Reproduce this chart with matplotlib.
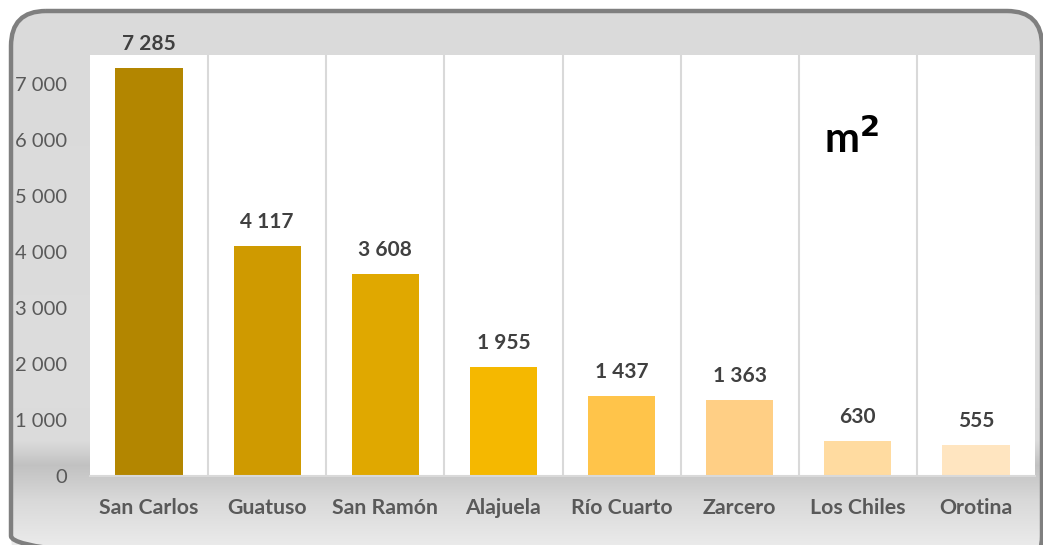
import numpy as np
import matplotlib
matplotlib.use("Agg")
import matplotlib.pyplot as plt
from matplotlib.patches import FancyBboxPatch

categories = ["San Carlos", "Guatuso", "San Ramón", "Alajuela", "Río Cuarto", "Zarcero", "Los Chiles", "Orotina"]
values = [7285, 4117, 3608, 1955, 1437, 1363, 630, 555]
colors = ["#B38600", "#CF9A00", "#E0A800", "#F5B800", "#FFC44A", "#FFCF85", "#FFDBA0", "#FFE5C0"]
yticks = [0, 1000, 2000, 3000, 4000, 5000, 6000, 7000]
ytick_labels = ["0", "1 000", "2 000", "3 000", "4 000", "5 000", "6 000", "7 000"]

plt.rcParams['font.family'] = ['Lato', 'DejaVu Sans']

W, H = 1043, 545
fig = plt.figure(figsize=(W / 100, H / 100), dpi=100)
fig.patch.set_facecolor("white")

# background gradient inside a rounded frame
bg = fig.add_axes([0, 0, 1, 1], zorder=0)
bg.set_xlim(0, W)
bg.set_ylim(H, 0)
bg.axis("off")
rows = np.arange(H)
stops_y = [0, 380, 440, 465, 500, 545]
stops_v = [0.855, 0.865, 0.86, 0.76, 0.85, 0.92]
col = np.interp(rows, stops_y, stops_v)
img = np.repeat(col[:, None], 10, axis=1)
im = bg.imshow(np.dstack([img, img, img]), extent=[0, W, H, 0], aspect="auto", zorder=0)
frame = FancyBboxPatch((11, 11), 1031, 560, boxstyle="round,pad=0,rounding_size=35",
                       transform=bg.transData, facecolor="none", edgecolor="#7f7f7f", lw=3.2, zorder=2)
bg.add_patch(frame)
im.set_clip_path(frame)

# plot area
left, right, top, bottom = 90, 1035, 55, 476
ax = fig.add_axes([left / W, 1 - bottom / H, (right - left) / W, (bottom - top) / H], zorder=1)
ax.set_facecolor("white")
x = np.arange(len(categories))
ax.bar(x, values, width=0.57, color=colors, zorder=2)
ax.set_xlim(-0.5, len(categories) - 0.5)
ax.set_ylim(0, 7520)
for b in np.arange(0.5, len(categories) - 0.5, 1):
    ax.axvline(b, color="#d9d9d9", lw=1.5, zorder=1)
for s in ["top", "right", "left"]:
    ax.spines[s].set_visible(False)
ax.spines["bottom"].set_color("#d9d9d9")
ax.spines["bottom"].set_linewidth(1.5)
ax.set_yticks(yticks)
ax.set_yticklabels(ytick_labels, fontsize=14.5, color="#595959")
ax.set_xticks(x)
ax.set_xticklabels(categories, fontsize=15.3, color="#595959", fontweight="bold")
ax.tick_params(axis="y", length=0, pad=16.5)
ax.tick_params(axis="x", length=0, pad=16)

for xi, v in zip(x, values):
    ax.annotate(f"{v:,}".replace(",", " "), (xi, v), xytext=(0, 10), textcoords="offset points",
                ha="center", va="bottom", fontsize=15, fontweight="bold", color="#404040",
                annotation_clip=False)

ax.text(5.95, 6030, "m$\\mathbf{^2}$", ha="center", va="center", fontsize=30, fontweight="bold",
        color="black")

fig.savefig("out.png", dpi=100)
